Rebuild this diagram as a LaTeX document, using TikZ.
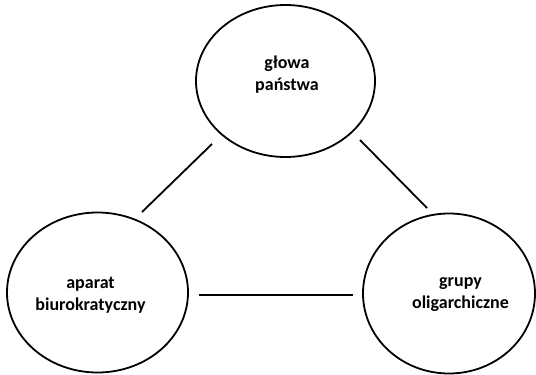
\documentclass[tikz,border=0pt]{standalone}
\usepackage{fontspec}
\setmainfont{Carlito}
\usetikzlibrary{positioning, shapes.geometric}

\tikzset{
	every role/.style={draw, ellipse, line width=1.8pt, inner sep=0pt},
	role label/.style={font=\bfseries\fontsize{18}{22}\selectfont, align=center},
	link/.style={line width=1.8pt}
}

\begin{document}
\begin{tikzpicture}[x=1pt, y=-1pt]
	\useasboundingbox (0,0) rectangle (536,375);

	% the three circles
	\node [every role, minimum width=179pt, minimum height=152pt] (glowa) at (285.5, 81) {};
	\node [every role, minimum width=181pt, minimum height=160pt] (aparat) at (97.5, 292.5) {};
	\node [every role, minimum width=172pt, minimum height=160pt] (grupy) at (449, 293.5) {};

	\node [role label] (glowa-txt) at (287, 75) {głowa\\państwa};
	\node [role label] (aparat-txt) at (90.5, 295) {aparat\\biurokratyczny};
	\node [role label] (grupy-txt) at (460.5, 295) {grupy\\oligarchiczne};

	% ends of the links
	\coordinate (gl-a) at (212, 144);
	\coordinate (ap-g) at (142, 212);
	\coordinate (gl-g) at (360, 140);
	\coordinate (gr-g) at (427, 208);
	\coordinate (ap-r) at (199, 295);
	\coordinate (gr-a) at (353, 295);

	\draw [link] (gl-a) -- (ap-g);
	\draw [link] (gl-g) -- (gr-g);
	\draw [link] (ap-r) -- (gr-a);
\end{tikzpicture}
\end{document}
